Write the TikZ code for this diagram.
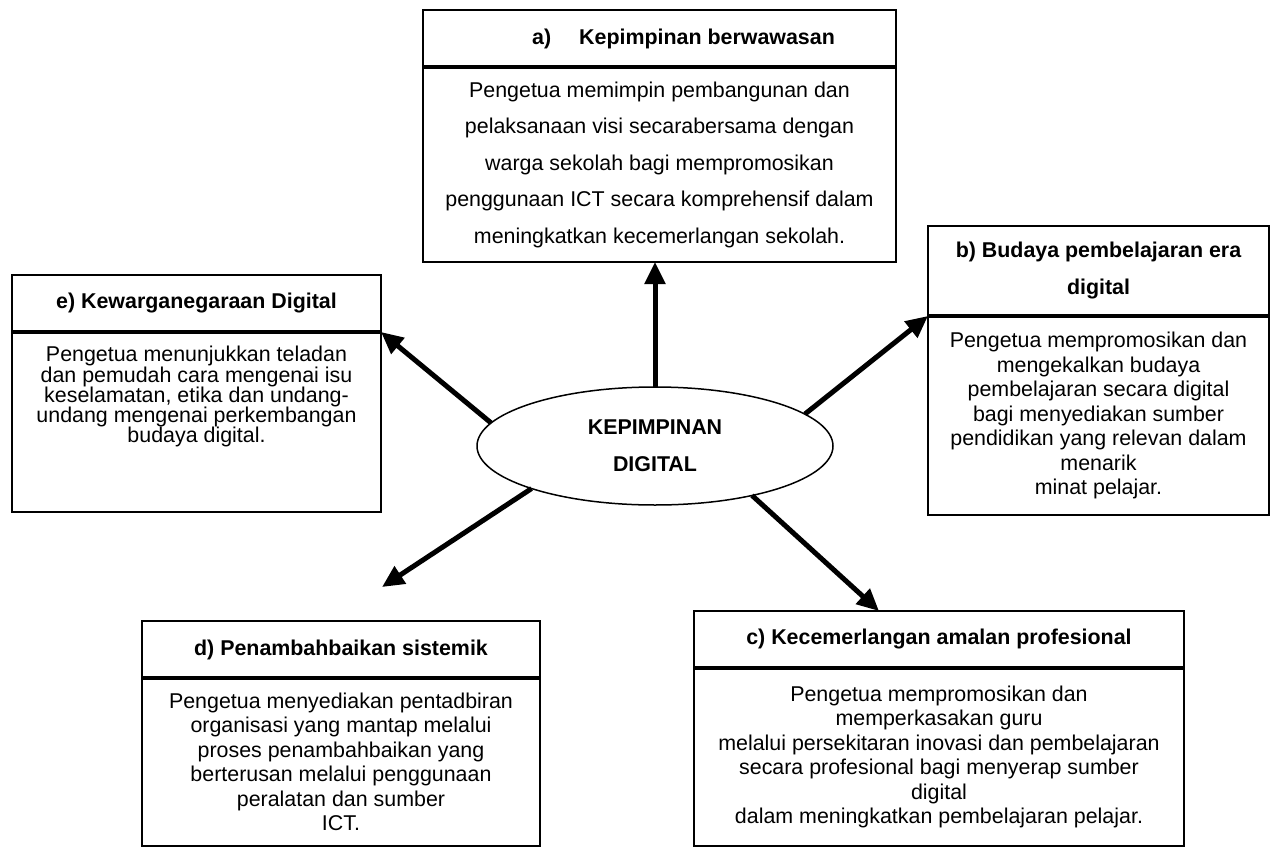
\documentclass[tikz,border=0pt]{standalone}
\usepackage{fontspec}
\setmainfont{Liberation Sans}
\usetikzlibrary{positioning, shapes.geometric, arrows.meta}

\begin{document}
\begin{tikzpicture}[x=1pt, y=-1pt,
    kepala/.style={draw, line width=2pt, rectangle, inner sep=0pt, outer sep=0pt,
        align=center, font=\bfseries\fontsize{21.4}{37}\selectfont},
    isi/.style={draw, line width=2pt, rectangle, inner sep=0pt, outer sep=0pt,
        align=center, font=\fontsize{21.4}{24.5}\selectfont},
    panah/.style={-{Triangle[length=22pt, width=20pt]}, line width=5pt},
    garis/.style={line width=3.5pt}]
    \useasboundingbox (0,0) rectangle (1271,848);

    % Pusat
    \node[draw, ellipse, line width=1.5pt, outer sep=0pt, minimum width=356pt, minimum height=118pt,
        align=center, font=\bfseries\fontsize{21.4}{37}\selectfont] (KD) at (655,446) {KEPIMPINAN\\DIGITAL};

    % a) Kepimpinan berwawasan
    \node[kepala, minimum width=473pt, minimum height=57pt] (ahead) at (659.5,38.5)
        {\hspace{48pt}a)\hspace{28pt}Kepimpinan berwawasan};
    \node[isi, minimum width=473pt, minimum height=195pt, below=0pt of ahead,
        font=\fontsize{21.4}{36.5}\selectfont] (abody)
        {Pengetua memimpin pembangunan dan\\
         pelaksanaan visi secarabersama dengan\\
         warga sekolah bagi mempromosikan\\
         penggunaan ICT secara komprehensif dalam\\
         meningkatkan kecemerlangan sekolah.};
    \draw[garis] (ahead.south west) -- (ahead.south east);

    % b) Budaya pembelajaran era digital
    \node[kepala, minimum width=341pt, minimum height=90pt] (bhead) at (1098.5,271)
        {b) Budaya pembelajaran era\\digital};
    \node[isi, minimum width=341pt, minimum height=199pt, below=0pt of bhead] (bbody)
        {Pengetua mempromosikan dan\\
         mengekalkan budaya\\
         pembelajaran secara digital\\
         bagi menyediakan sumber\\
         pendidikan yang relevan dalam\\
         menarik\\
         minat pelajar.};
    \draw[garis] (bhead.south west) -- (bhead.south east);

    % c) Kecemerlangan amalan profesional
    \node[kepala, minimum width=490pt, minimum height=57pt] (chead) at (939,639.5)
        {c) Kecemerlangan amalan profesional};
    \node[isi, minimum width=490pt, minimum height=178pt, below=0pt of chead] (cbody)
        {Pengetua mempromosikan dan\\
         memperkasakan guru\\
         melalui persekitaran inovasi dan pembelajaran\\
         secara profesional bagi menyerap sumber\\
         digital\\
         dalam meningkatkan pembelajaran pelajar.};
    \draw[garis] (chead.south west) -- (chead.south east);

    % d) Penambahbaikan sistemik
    \node[kepala, minimum width=398pt, minimum height=57pt] (dhead) at (341,649.5)
        {d) Penambahbaikan sistemik};
    \node[isi, minimum width=398pt, minimum height=168pt, below=0pt of dhead] (dbody)
        {Pengetua menyediakan pentadbiran\\
         organisasi yang mantap melalui\\
         proses penambahbaikan yang\\
         berterusan melalui penggunaan\\
         peralatan dan sumber\\
         ICT.};
    \draw[garis] (dhead.south west) -- (dhead.south east);

    % e) Kewarganegaraan Digital
    \node[kepala, minimum width=369pt, minimum height=57pt] (ehead) at (196.5,303.5)
        {e) Kewarganegaraan Digital};
    \node[isi, minimum width=369pt, minimum height=180pt, below=0pt of ehead] (ebody) {};
    \node[anchor=north, inner sep=0pt, align=center, font=\fontsize{21.4}{20.3}\selectfont]
        (etext) at ([yshift=-14pt]ebody.north)
        {Pengetua menunjukkan teladan\\
         dan pemudah cara mengenai isu\\
         keselamatan, etika dan undang-\\
         undang mengenai perkembangan\\
         budaya digital.};
    \draw[garis] (ehead.south west) -- (ehead.south east);

    % Anak panah
    \coordinate (ctip) at ([xshift=-60pt]chead.north);
    \coordinate (dtip) at (382,587);
    \draw[panah] (KD.north) -- (KD.north |- abody.south);
    \draw[panah] (KD.12) -- (bhead.south west);
    \draw[panah] (KD.333) -- (ctip);
    \draw[panah] (KD.199) -- (dtip);
    \draw[panah] (KD.172) -- (ehead.south east);

\end{tikzpicture}
\end{document}
